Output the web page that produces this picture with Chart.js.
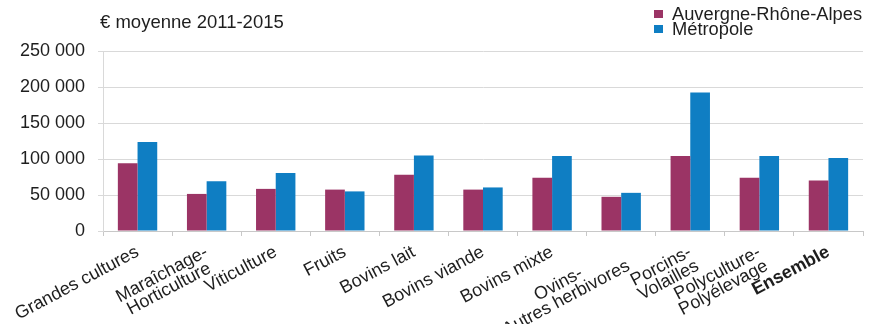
<!DOCTYPE html>
<html lang="fr">
<head>
<meta charset="utf-8">
<script src="https://cdn.jsdelivr.net/npm/chart.js@4/dist/chart.umd.min.js"></script>
<style>
  body { margin: 0; background: #fff; }
  #wrap { position: relative; width: 869px; height: 324px; font-family: "Liberation Sans", Arial, sans-serif; color: #1e1e1e; }
  #title { position: absolute; left: 100px; top: 11px; font-size: 18.5px; }
  #legend { position: absolute; left: 654px; top: 6px; font-size: 18.3px; line-height: 15px; }
  #legend div { display: flex; align-items: center; }
  #legend span.sw { width: 9px; height: 8px; margin-right: 9px; display: inline-block; }
</style>
</head>
<body>
<div id="wrap">
  <canvas id="chart" width="869" height="324"></canvas>
  <div id="title">€ moyenne 2011-2015</div>
  <div id="legend"></div>
</div>
<script>
// Orientations technico-économiques
const categories = [
  "Grandes cultures",
  ["Maraîchage-", "Horticulture"],
  "Viticulture",
  "Fruits",
  "Bovins lait",
  "Bovins viande",
  "Bovins mixte",
  ["Ovins-", "Autres herbivores"],
  ["Porcins-", "Volailles"],
  ["Polyculture-", "Polyélevage"],
  "Ensemble"
];

// Résultat moyen 2011-2015 (€)
const auvergneRhoneAlpes = [94000, 51500, 58500, 57500, 78000, 57500, 74000, 47500, 104000, 74000, 70000];
const metropole = [123500, 69000, 80500, 55000, 105000, 60500, 104000, 53000, 192500, 104000, 101500];

const seriesNames = ["Auvergne-Rhône-Alpes", "Métropole"];
const colors = ["#9B3465", "#0F7EC3"];

// legend (top right)
const legend = document.getElementById("legend");
seriesNames.forEach((name, i) => {
  const row = document.createElement("div");
  row.innerHTML = `<span class="sw" style="background:${colors[i]}"></span>${name}`;
  legend.appendChild(row);
});

const font = "'Liberation Sans', Arial, sans-serif";
const tickSize = 18;
const fmt = (v) => v.toString().replace(/\B(?=(\d{3})+(?!\d))/g, " ");

// rotated labels are right-aligned by Chart.js; pad short lines with
// trailing spaces so two-line labels read centred
const measure = document.createElement("canvas").getContext("2d");
measure.font = `${tickSize}px ${font}`;
function centerLines(label) {
  if (!Array.isArray(label)) return label;
  const widths = label.map(l => measure.measureText(l).width);
  const maxW = Math.max(...widths);
  const sp = measure.measureText(" ").width;
  return label.map((l, i) => l + " ".repeat(Math.round((maxW - widths[i]) / 2 / sp)));
}

new Chart(document.getElementById("chart"), {
  type: "bar",
  data: {
    labels: categories,
    datasets: [
      { label: seriesNames[0], data: auvergneRhoneAlpes, backgroundColor: colors[0] },
      { label: seriesNames[1], data: metropole, backgroundColor: colors[1] }
    ]
  },
  options: {
    responsive: false,
    animation: false,
    devicePixelRatio: 1,
    categoryPercentage: 0.57,
    barPercentage: 1.0,
    layout: { padding: { top: 51, right: 6, left: 0, bottom: 0 } },
    plugins: { legend: { display: false }, tooltip: { enabled: false } },
    scales: {
      x: {
        grid: { drawOnChartArea: false, offset: true, tickLength: 5, color: "#c8c8c8" },
        border: { color: "#c8c8c8" },
        ticks: {
          color: "#1e1e1e",
          minRotation: 28,
          maxRotation: 28,
          padding: 8,
          autoSkip: false,
          callback: function (v, i) { return centerLines(categories[i]); },
          font: (ctx) => ({ family: font, size: tickSize, lineHeight: 0.88, weight: ctx.index === 10 ? "bold" : "normal" })
        },
        afterFit: (s) => { s.height = 93; }
      },
      y: {
        min: 0,
        max: 250000,
        grid: { color: "#d9d9d9", tickLength: 5 },
        border: { color: "#d9d9d9" },
        ticks: {
          stepSize: 50000,
          color: "#1e1e1e",
          padding: 13,
          font: { family: font, size: 18 },
          callback: (v) => fmt(v)
        },
        afterFit: (s) => { s.width = 103; }
      }
    }
  }
});
</script>
</body>
</html>
